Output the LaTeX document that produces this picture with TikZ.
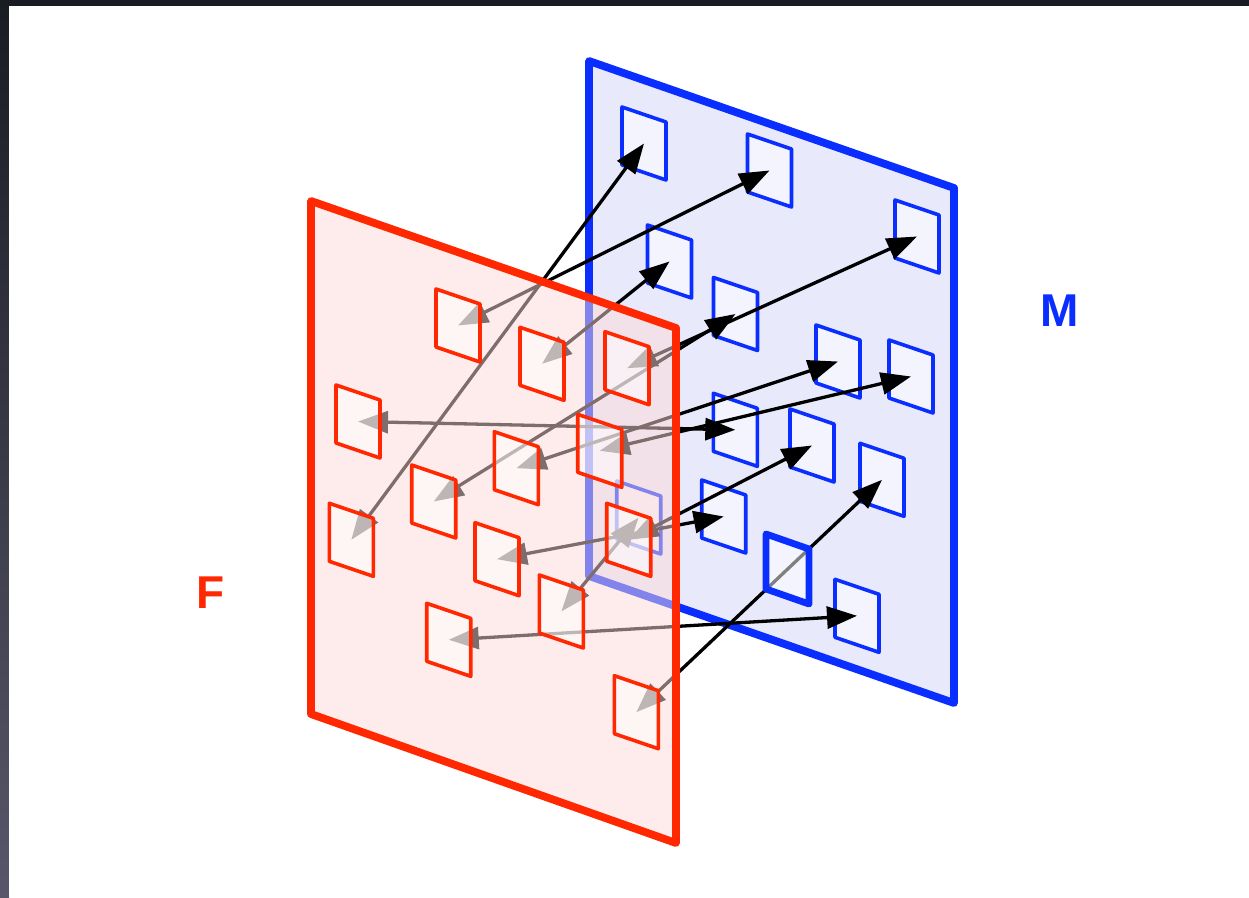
\documentclass[tikz,border=0pt]{standalone}
\usepackage{fontspec}
\setmainfont{Liberation Sans}
\usetikzlibrary{arrows.meta}
\definecolor{Fred}{RGB}{255,40,0}
\definecolor{Mblue}{RGB}{10,46,255}
\definecolor{Fplane}{RGB}{253,218,216}
\definecolor{Mplane}{RGB}{232,234,252}
\definecolor{frameTop}{RGB}{26,28,35}
\definecolor{frameBot}{RGB}{88,87,106}
\newcommand\sqat[2]{\path[#1] ([shift={(-22,-36.5)}]#2) -- ++(44,15) -- ++(0,58) -- ++(-44,-15) -- cycle;}
\begin{document}
\begin{tikzpicture}[x=1pt,y=-1pt,
  plane/.style={line width=7.8pt, line join=round},
  msq/.style={draw=Mblue, line width=3.6pt, fill=white, fill opacity=0.5, line join=round},
  fsq/.style={draw=Fred, line width=3.6pt, fill=white, fill opacity=0.5, line join=round},
  link/.style={line width=3.3pt, draw=black, {Triangle[length=30pt,width=22pt]}-{Triangle[length=30pt,width=22pt]}},
  lab/.style={font=\bfseries\fontsize{46}{46}\selectfont, inner sep=0pt}]
\useasboundingbox (0,0) rectangle (1249,897);
% screenshot frame
\fill[frameTop] (0,0) rectangle (1249,897);
\shade[top color=frameTop, bottom color=frameBot] (0,0) rectangle (9,897);
\fill[white] (9,6) rectangle (1249,897);
% square centres, plane M
\coordinate (M1) at (644,143.5);
\coordinate (M2) at (769.5,170.5);
\coordinate (M3) at (917,236.5);
\coordinate (M4) at (669.5,261.5);
\coordinate (M5) at (735.5,314);
\coordinate (M6) at (838,361.5);
\coordinate (M7) at (911,376.5);
\coordinate (M8) at (735.3,429.8);
\coordinate (M9) at (812,445.5);
\coordinate (M10) at (882,479.8);
\coordinate (M11) at (723.7,516.5);
\coordinate (M12) at (787.5,569);
\coordinate (M13) at (857,615.8);
\coordinate (M14) at (638.7,517.5);
% square centres, plane F
\coordinate (Fa) at (458,325.5);
\coordinate (Fb) at (542,363.8);
\coordinate (Fc) at (627,368.2);
\coordinate (Fd) at (358,421.5);
\coordinate (Fe) at (599.7,450.8);
\coordinate (Ff) at (516.3,468.2);
\coordinate (Fg) at (433.7,501.5);
\coordinate (Fh) at (351.3,539.8);
\coordinate (Fi) at (497,559.2);
\coordinate (Fj) at (561.3,611.5);
\coordinate (Fk) at (628.7,539.8);
\coordinate (Fl) at (448.7,639.8);
\coordinate (Fm) at (636.3,712.2);
% plane M
\draw[plane, draw=Mblue, fill=Mplane] (589,61) -- (954,188) -- (954,703) -- (589,576) -- cycle;
\foreach \s in {M1,M2,M3,M4,M5,M6,M7,M8,M9,M10,M11,M13,M14} {\sqat{msq}{\s}}
% correspondences
\draw[link] (Fh) -- (M1);
\draw[link] (Fa) -- (M2);
\draw[link] (Fb) -- (M4);
\draw[link] (Fc) -- (M3);
\draw[link] (Fg) -- (M5);
\draw[link] (Ff) -- (M6);
\draw[link] (Fe) -- (M7);
\draw[link] (Fd) -- (M8);
\draw[link] (Fk) -- (M9);
\draw[link] (Fi) -- (M11);
\draw[link] (Fj) -- (M14);
\draw[link] (Fm) -- (M10);
\draw[link] (Fl) -- (M13);
% highlighted square
\path[draw=Mblue, line width=6.8pt, fill=white, fill opacity=0.5, line join=round] ([shift={(-21.5,-35)}]M12) -- ++(43,15) -- ++(0,55) -- ++(-43,-15) -- cycle;
% plane F
\path[fill=Fplane, fill opacity=0.5] (311,201) -- (676,328) -- (676,843) -- (311,714) -- cycle;
\draw[plane, draw=Fred] (311,201) -- (676,328) -- (676,843) -- (311,714) -- cycle;
\foreach \s in {Fa,Fb,Fc,Fd,Fe,Ff,Fg,Fh,Fi,Fj,Fk,Fl,Fm} {\sqat{fsq}{\s}}
% labels
\node[lab, text=Fred] (labF) at (210.5,592.5) {F};
\node[lab, text=Mblue] (labM) at (1060,311) {M};
\end{tikzpicture}
\end{document}
